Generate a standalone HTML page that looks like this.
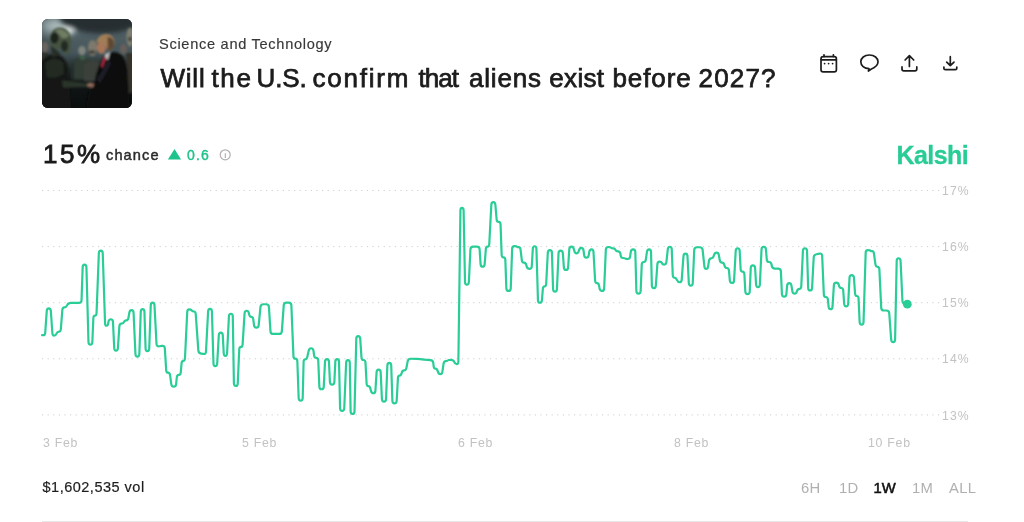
<!DOCTYPE html>
<html lang="en">
<head>
<meta charset="utf-8">
<title>Will the U.S. confirm that aliens exist before 2027?</title>
<style>
*{box-sizing:border-box;margin:0;padding:0}
html,body{width:1024px;height:522px;background:#fff;overflow:hidden}
body{font-family:"Liberation Sans",Arial,sans-serif;color:#1a1a1a;position:relative}
.abs{position:absolute;white-space:nowrap;line-height:1}
#thumb{position:absolute;left:42px;top:19px;width:90px;height:89px;border-radius:6px;overflow:hidden;background:#1c2121}
#cat{left:159px;top:36.500px;font-size:14.6px;color:#383838;letter-spacing:.7px;-webkit-text-stroke:.15px #383838}
#title{left:160px;top:64.700px;width:640px;height:30px;font-size:26px;color:#1c1c1c;-webkit-text-stroke:.75px #1c1c1c;letter-spacing:.65px}
#title span{position:absolute;top:0}
#pct{left:43px;top:141px;font-size:26px;color:#1a1a1a;-webkit-text-stroke:.8px #1a1a1a;letter-spacing:2.5px}
#chance{left:106px;top:148px;font-size:14.6px;color:#2a2a2a;-webkit-text-stroke:.45px #2a2a2a;letter-spacing:1.1px}
#delta{left:187px;top:148px;font-size:14px;color:#1ec28b;-webkit-text-stroke:.4px #1ec28b;letter-spacing:1.2px}
#kalshi{left:896.500px;top:142.600px;font-size:25px;font-weight:700;color:#28cc95;letter-spacing:-.55px;-webkit-text-stroke:.3px #28cc95}
#vol{left:42.500px;top:480px;font-size:14.5px;color:#1e1e1e;letter-spacing:.5px;-webkit-text-stroke:.2px #1e1e1e}
.tf{top:480.500px;font-size:14.8px;color:#b0b0b0;letter-spacing:.3px}
.xl{top:436.500px;font-size:12.3px;color:#c2c2c2;letter-spacing:.75px}
.yl{left:942px;font-size:12.2px;color:#c2c2c2;letter-spacing:1.1px}
#rule{position:absolute;left:42px;top:521px;width:926px;height:1px;background:#e6e6e6}
svg{position:absolute;left:0;top:0}
</style>
</head>
<body>
<div id="thumb"><svg width="90" height="89" viewBox="0 0 90 89">
<defs>
<filter id="b1" x="-30%" y="-30%" width="160%" height="160%"><feGaussianBlur stdDeviation="1"/></filter>
<filter id="b2" x="-40%" y="-40%" width="180%" height="180%"><feGaussianBlur stdDeviation="2.600"/></filter>
<filter id="b3" x="-40%" y="-40%" width="180%" height="180%"><feGaussianBlur stdDeviation="5"/></filter>
<linearGradient id="bgv" x1="0" y1="0" x2="0" y2="1"><stop offset="0" stop-color="#56676b"/><stop offset=".38" stop-color="#45555a"/><stop offset=".56" stop-color="#222a2a"/><stop offset=".8" stop-color="#0f1313"/><stop offset="1" stop-color="#0b0e0e"/></linearGradient>
</defs>
<rect width="90" height="89" fill="url(#bgv)"/>
<g filter="url(#b3)">
<ellipse cx="17" cy="7" rx="17" ry="7" fill="#b4c2c3"/>
<ellipse cx="1" cy="32" rx="7" ry="14" fill="#3a4648"/>
</g>
<g filter="url(#b2)">
<ellipse cx="60" cy="-3" rx="43" ry="17.500" fill="#252d31"/>
<ellipse cx="26" cy="12" rx="6" ry="3" fill="#eef4f4"/>
<path d="M30 44 H64 V60 H30Z" fill="#272e2b"/>
</g>
<g filter="url(#b1)">
<ellipse cx="3" cy="28" rx="3.500" ry="5.500" fill="#69635f"/>
<path d="M-2 34 Q4 31 8 36 L8 48 L-2 48Z" fill="#2e322e"/>
<ellipse cx="40" cy="31.500" rx="3.800" ry="4.600" fill="#80847e"/>
<path d="M32 42 Q40 34 47 41 L47 60 L32 60Z" fill="#333d36"/>
<ellipse cx="40.500" cy="38.500" rx="3" ry="2.200" fill="#3d5f4b"/>
<ellipse cx="50.500" cy="29" rx="4.500" ry="8" fill="#7f796d"/>
<ellipse cx="50" cy="33" rx="3.500" ry="2" fill="#4a473f"/>
<path d="M42 46 Q51 37 60 45 L60 62 L42 62Z" fill="#3b403a"/>
<ellipse cx="88" cy="18" rx="3.500" ry="9.500" fill="#7f7f70"/>
<ellipse cx="88" cy="20" rx="2" ry="2.500" fill="#45453c"/>
<ellipse cx="81.500" cy="30" rx="3.600" ry="5" fill="#665f5a"/>
<path d="M84 34 H92 V74 H86Z" fill="#34332a"/>
<!-- main alien body -->
<path d="M-2 44 Q6 33 17 36 Q27 40 26.500 58 L29 92 L-2 92Z" fill="#141914"/>
<path d="M3 44 Q12 36 21 43 L22 55 Q14 60 5 58Z" fill="#222a22"/>
<!-- head -->
<path d="M8 22 Q8 9 18 8.500 Q29 9 29 22 Q29 30 26.500 34.500 Q23 36 20 30 Q12 30 9 26Z" fill="#46533f"/>
<path d="M13 11 Q21 8 27 16 Q25 20 20 19 Q16 14 13 11Z" fill="#6f7d64"/>
<ellipse cx="12.500" cy="19" rx="4" ry="5.500" fill="#1c241e"/>
<ellipse cx="22.500" cy="27" rx="3.600" ry="5.500" fill="#212a23"/>
<path d="M9 27 Q15 30 19 36 L10 38Z" fill="#252e26"/>
<!-- arm -->
<path d="M20 61.500 L46 64.500 L46 68 L21 68.500Z" fill="#2a3529"/>
<!-- trump suit -->
<path d="M52 64 Q56 44 63 36 Q72 30 80 36 Q86 44 86 60 L88 92 L44 92 L47 72Z" fill="#0d0e11"/>
<path d="M55 60 Q62 50 66 41 L69 44 Q64 55 58 64Z" fill="#1d1f25"/>
<!-- face/hair -->
<ellipse cx="59.500" cy="28.500" rx="4.600" ry="6.300" fill="#a8775a"/>
<path d="M54 24 Q56 15 65 15 Q73 16 72.500 25 Q71 31 66 32 Q64 25 60 23 Q57 23 54 24Z" fill="#a07f57"/>
<path d="M65.500 18 Q73 18 72 27 Q70 31 66 32 Q65.500 25 65.500 18Z" fill="#5e4631"/>
<path d="M63 35 L68 33 L66 41 L63 39Z" fill="#bcbcbc"/>
<path d="M61.500 38 L64.500 38.500 L60.500 49 L59 47Z" fill="#a82a40"/>
<ellipse cx="48.500" cy="66" rx="3.400" ry="2.500" fill="#8c6658"/>
</g>
</svg></div>
<div id="cat" class="abs">Science and Technology</div>
<div id="title" class="abs"><span style="left:0.40px;letter-spacing:0.80px">Will</span> <span style="left:51.40px;letter-spacing:1.67px">the</span> <span style="left:96.60px;letter-spacing:-0.16px">U.S.</span> <span style="left:152.50px;letter-spacing:1.79px">confirm</span> <span style="left:258.46px;letter-spacing:-0.94px">that</span> <span style="left:309.06px;letter-spacing:0.79px">aliens</span> <span style="left:389.34px;letter-spacing:0.32px">exist</span> <span style="left:452.44px;letter-spacing:0.90px">before</span> <span style="left:538.50px;letter-spacing:1.18px">2027?</span></div>
<div id="pct" class="abs">15%</div>
<div id="chance" class="abs">chance</div>
<div id="delta" class="abs">0.6</div>
<div id="kalshi" class="abs">Kalshi</div>
<svg id="chart" width="1024" height="522" viewBox="0 0 1024 522" fill="none">
<g stroke="#cfcfcf" stroke-width="1" stroke-dasharray="1.2 4.4">
<line x1="42" x2="941.5" y1="190.5" y2="190.5"/>
<line x1="42" x2="941.5" y1="246.6" y2="246.6"/>
<line x1="42" x2="941.5" y1="302.7" y2="302.7"/>
<line x1="42" x2="941.5" y1="358.8" y2="358.8"/>
<line x1="42" x2="941.5" y1="414.9" y2="414.9"/>
</g>
<path d="M42.05,335.20L43.55,335.20Q45.05,335.20 45.23,332.61L46.77,310.94Q46.95,308.35 48.80,308.35L48.80,308.35Q50.65,308.35 50.83,310.94L52.37,332.96Q52.55,335.55 54.10,335.55L54.10,335.55Q55.65,335.55 56.50,333.58L56.50,333.57Q57.35,331.60 59.00,331.60L59.00,331.60Q60.65,331.60 60.85,329.01L62.35,309.89Q62.55,307.30 64.35,307.30L64.35,307.30Q66.15,307.30 67.20,305.10L67.20,305.10Q68.25,302.90 70.85,302.90L78.85,302.90Q81.45,302.90 81.54,300.30L82.66,267.15Q82.75,264.55 84.55,264.55L84.55,264.55Q86.35,264.55 86.42,267.15L88.48,341.95Q88.55,344.55 90.40,344.55L90.40,344.55Q92.25,344.55 92.36,341.95L93.34,318.20Q93.45,315.60 94.95,315.60L94.95,315.60Q96.45,315.60 96.55,313.00L98.85,253.25Q98.95,250.65 100.80,250.65L100.80,250.65Q102.65,250.65 102.74,253.25L105.06,323.15Q105.15,325.75 106.53,325.75L106.53,325.75Q107.90,325.75 108.26,323.17L108.44,321.83Q108.80,319.25 110.83,319.25L110.83,319.25Q112.85,319.25 112.97,321.85L114.23,347.95Q114.35,350.55 116.05,350.55L116.05,350.55Q117.75,350.55 117.92,347.96L119.38,326.19Q119.55,323.60 121.50,323.60L121.50,323.60Q123.45,323.60 124.05,321.95L124.05,321.95Q124.65,320.30 126.35,320.30L126.35,320.30Q128.05,320.30 128.48,317.74L129.32,312.71Q129.75,310.15 131.60,310.15L131.60,310.15Q133.45,310.15 133.57,312.75L135.43,353.95Q135.55,356.55 137.40,356.55L137.40,356.55Q139.25,356.55 139.34,353.95L140.76,311.65Q140.85,309.05 142.60,309.05L142.60,309.05Q144.35,309.05 144.43,311.65L145.57,348.55Q145.65,351.15 147.40,351.15L147.40,351.15Q149.15,351.15 149.24,348.55L150.76,305.15Q150.85,302.55 152.60,302.55L152.60,302.55Q154.35,302.55 154.49,305.15L156.51,344.00Q156.65,346.60 159.23,346.28L162.07,345.92Q164.65,345.60 164.81,348.19L166.19,370.11Q166.35,372.70 168.05,372.70L168.05,372.70Q169.75,372.70 170.10,375.28L171.30,384.07Q171.65,386.65 173.75,386.65L173.75,386.65Q175.85,386.65 176.11,384.06L176.79,377.49Q177.05,374.90 178.80,374.90L178.80,374.90Q180.55,374.90 180.77,372.31L181.53,363.49Q181.75,360.90 183.30,360.90L183.30,360.90Q184.85,360.90 184.98,358.30L187.22,312.05Q187.35,309.45 189.10,309.45L189.10,309.45Q190.85,309.45 191.70,310.48L191.70,310.48Q192.55,311.50 194.05,311.50L194.05,311.50Q195.55,311.50 195.74,314.09L198.36,350.66Q198.55,353.25 201.12,353.64L203.28,353.96Q205.85,354.35 205.99,351.75L208.11,311.55Q208.25,308.95 210.05,308.95L210.05,308.95Q211.85,308.95 211.93,311.55L213.47,363.55Q213.55,366.15 215.30,366.15L215.30,366.15Q217.05,366.15 217.20,363.55L218.80,335.25Q218.95,332.65 220.80,332.65L220.80,332.65Q222.65,332.65 222.78,335.25L223.72,353.25Q223.85,355.85 225.40,355.85L225.40,355.85Q226.95,355.85 227.08,353.25L228.92,316.35Q229.05,313.75 230.90,313.75L230.90,313.75Q232.75,313.75 232.79,316.35L233.91,383.35Q233.95,385.95 235.80,385.95L235.80,385.95Q237.65,385.95 237.76,383.35L239.24,349.50Q239.35,346.90 240.90,346.90L240.90,346.90Q242.45,346.90 242.62,344.31L244.58,313.34Q244.75,310.75 246.60,310.75L246.60,310.75Q248.45,310.75 248.95,313.30L249.15,314.35Q249.65,316.90 251.30,316.90L251.30,316.90Q252.95,316.90 253.29,319.48L254.01,325.07Q254.35,327.65 256.40,327.65L256.40,327.65Q258.45,327.65 258.70,325.06L260.50,306.84Q260.75,304.25 263.35,304.25L266.15,304.25Q268.75,304.25 268.92,306.84L270.48,331.36Q270.65,333.95 273.25,333.95L279.05,333.95Q281.65,333.95 281.84,331.36L283.76,305.14Q283.95,302.55 286.55,302.55L288.65,302.55Q291.25,302.55 291.36,305.15L293.44,356.10Q293.55,358.70 295.40,358.70L295.40,358.70Q297.25,358.70 297.34,361.30L298.66,397.95Q298.75,400.55 300.70,400.55L300.70,400.55Q302.65,400.55 302.71,397.95L303.59,362.00Q303.65,359.40 305.20,359.40L305.20,359.40Q306.75,359.40 307.32,356.86L308.68,350.79Q309.25,348.25 311.20,348.25L311.20,348.25Q313.15,348.25 313.50,350.83L314.10,355.32Q314.45,357.90 316.30,357.90L316.30,357.90Q318.15,357.90 318.26,360.50L319.34,386.65Q319.45,389.25 321.55,389.25L321.55,389.25Q323.65,389.25 323.78,386.65L325.02,361.65Q325.15,359.05 327.00,359.05L327.00,359.05Q328.85,359.05 328.97,361.65L329.93,381.95Q330.05,384.55 332.15,384.55L332.15,384.55Q334.25,384.55 334.37,381.95L335.33,361.65Q335.45,359.05 337.20,359.05L337.20,359.05Q338.95,359.05 339.01,361.65L340.09,408.25Q340.15,410.85 342.15,410.85L342.15,410.85Q344.15,410.85 344.26,408.25L346.14,362.75Q346.25,360.15 348.00,360.15L348.00,360.15Q349.75,360.15 349.79,362.75L350.61,411.35Q350.65,413.95 352.55,413.95L352.55,413.95Q354.45,413.95 354.51,411.35L356.29,338.65Q356.35,336.05 358.20,336.05L358.20,336.05Q360.05,336.05 360.22,338.64L361.48,357.41Q361.65,360.00 363.50,360.00L363.50,360.00Q365.35,360.00 365.49,362.60L366.61,383.50Q366.75,386.10 368.30,386.10L368.30,386.10Q369.85,386.10 370.45,388.63L370.95,390.72Q371.55,393.25 373.40,393.25L373.40,393.25Q375.25,393.25 375.41,390.66L376.59,372.14Q376.75,369.55 378.65,369.55L378.65,369.55Q380.55,369.55 380.67,372.15L381.93,398.95Q382.05,401.55 384.00,401.55L384.00,401.55Q385.95,401.55 386.05,398.95L387.35,365.45Q387.45,362.85 389.30,362.85L389.30,362.85Q391.15,362.85 391.23,365.45L392.37,400.75Q392.45,403.35 394.50,403.35L394.50,403.35Q396.55,403.35 396.69,400.75L397.91,378.20Q398.05,375.60 399.50,375.60L399.50,375.60Q400.95,375.60 401.63,373.09L401.67,372.91Q402.35,370.40 404.15,370.40L404.15,370.40Q405.95,370.40 406.43,367.84L407.67,361.26Q408.15,358.70 410.75,358.75L416.85,358.85Q419.45,358.90 420.50,359.10L420.50,359.10Q421.55,359.30 424.14,359.53L430.41,360.07Q433.00,360.30 433.28,362.88L433.62,366.02Q433.90,368.60 435.43,368.60L435.43,368.60Q436.95,368.60 437.71,371.09L437.89,371.66Q438.65,374.15 440.35,374.15L440.35,374.15Q442.05,374.15 442.42,371.58L443.58,363.67Q443.95,361.10 445.73,361.10L445.73,361.10Q447.50,361.10 447.95,360.45L447.95,360.45Q448.40,359.80 450.92,359.80L450.92,359.80Q453.45,359.80 454.20,361.93L454.20,361.93Q454.95,364.05 456.65,364.05L456.65,364.05Q458.35,364.05 458.38,361.45L460.42,210.55Q460.45,207.95 462.00,207.95L462.00,207.95Q463.55,207.95 463.60,210.55L465.00,281.95Q465.05,284.55 466.90,284.55L466.90,284.55Q468.75,284.55 468.87,281.95L470.43,249.25Q470.55,246.65 473.15,246.65L476.85,246.65Q479.45,246.65 479.62,249.24L480.58,264.06Q480.75,266.65 482.60,266.65L482.60,266.65Q484.45,266.65 484.66,264.06L485.84,249.19Q486.05,246.60 487.60,246.60L487.60,246.60Q489.15,246.60 489.28,244.00L491.32,204.75Q491.45,202.15 493.30,202.15L493.30,202.15Q495.15,202.15 495.37,204.74L496.63,219.31Q496.85,221.90 498.65,221.90L498.65,221.90Q500.45,221.90 500.55,224.50L501.65,254.70Q501.75,257.30 503.50,257.30L503.50,257.30Q505.25,257.30 505.34,259.90L506.36,288.35Q506.45,290.95 508.55,290.95L508.55,290.95Q510.65,290.95 510.74,288.35L512.16,248.80Q512.25,246.20 514.40,246.20L514.40,246.20Q516.55,246.20 517.00,246.70L517.00,246.70Q517.45,247.20 518.85,247.20L518.85,247.20Q520.25,247.20 520.57,249.78L521.83,260.12Q522.15,262.70 523.90,262.70L523.90,262.70Q525.65,262.70 526.34,265.21L526.66,266.34Q527.35,268.85 529.50,268.85L529.50,268.85Q531.65,268.85 531.80,266.25L532.80,248.85Q532.95,246.25 534.65,246.25L534.65,246.25Q536.35,246.25 536.43,248.85L537.97,300.15Q538.05,302.75 539.90,302.75L539.90,302.75Q541.75,302.75 541.95,300.16L542.85,288.89Q543.05,286.30 544.55,286.30L544.55,286.30Q546.05,286.30 546.19,283.70L547.81,252.65Q547.95,250.05 549.90,250.05L549.90,250.05Q551.85,250.05 551.93,252.65L553.07,289.05Q553.15,291.65 555.00,291.65L555.00,291.65Q556.85,291.65 556.96,289.05L558.54,253.15Q558.65,250.55 560.65,250.55L560.65,250.55Q562.65,250.55 562.84,253.14L563.86,267.36Q564.05,269.95 566.00,269.95L566.00,269.95Q567.95,269.95 568.12,267.36L569.28,249.24Q569.45,246.65 571.40,246.65L571.40,246.65Q573.35,246.65 573.92,249.19L574.28,250.81Q574.85,253.35 576.55,253.35L576.55,253.35Q578.25,253.35 578.86,250.82L578.94,250.48Q579.55,247.95 581.40,247.95L581.40,247.95Q583.25,247.95 583.57,250.53L584.13,255.07Q584.45,257.65 586.40,257.65L586.40,257.65Q588.35,257.65 588.76,255.08L589.24,252.02Q589.65,249.45 591.50,249.45L591.50,249.45Q593.35,249.45 593.50,252.05L595.10,280.50Q595.25,283.10 596.95,283.10L596.95,283.10Q598.65,283.10 599.07,285.67L599.53,288.38Q599.95,290.95 602.00,290.95L602.00,290.95Q604.05,290.95 604.16,288.35L605.84,249.60Q605.95,247.00 608.25,247.00L608.25,247.00Q610.55,247.00 611.15,247.65L611.15,247.65Q611.75,248.30 613.30,248.30L613.30,248.30Q614.85,248.30 615.45,249.80L615.45,249.80Q616.05,251.30 618.08,251.30L618.08,251.30Q620.10,251.30 620.45,253.88L620.65,255.42Q621.00,258.00 622.95,258.00L622.95,258.00Q624.90,258.00 625.35,258.50L625.35,258.50Q625.80,259.00 627.83,259.00L627.83,259.00Q629.85,259.00 630.17,256.42L630.73,252.03Q631.05,249.45 633.15,249.45L633.15,249.45Q635.25,249.45 635.32,252.05L636.38,290.95Q636.45,293.55 638.50,293.55L638.50,293.55Q640.55,293.55 640.66,290.95L641.74,264.60Q641.85,262.00 643.70,262.00L643.70,262.00Q645.55,262.00 645.90,259.42L646.90,252.03Q647.25,249.45 649.10,249.45L649.10,249.45Q650.95,249.45 651.02,252.05L651.88,285.55Q651.95,288.15 653.80,288.15L653.80,288.15Q655.65,288.15 655.84,285.56L657.36,264.24Q657.55,261.65 659.50,261.65L659.50,261.65Q661.45,261.65 661.95,263.10L661.95,263.10Q662.45,264.55 664.30,264.55L664.30,264.55Q666.15,264.55 666.43,261.96L667.77,249.34Q668.05,246.75 669.85,246.75L669.85,246.75Q671.65,246.75 671.75,249.35L672.75,275.00Q672.85,277.60 674.40,277.60L674.40,277.60Q675.95,277.60 676.90,279.93L676.90,279.93Q677.85,282.25 679.70,282.25L679.70,282.25Q681.55,282.25 681.74,279.66L683.46,256.24Q683.65,253.65 685.50,253.65L685.50,253.65Q687.35,253.65 687.48,256.25L688.82,282.95Q688.95,285.55 690.80,285.55L690.80,285.55Q692.65,285.55 692.77,282.95L694.23,249.85Q694.35,247.25 696.95,247.25L699.75,247.25Q702.35,247.25 702.62,249.84L704.38,266.36Q704.65,268.95 706.20,268.95L706.20,268.95Q707.75,268.95 708.14,266.38L708.96,260.87Q709.35,258.30 711.20,258.30L711.20,258.30Q713.05,258.30 713.79,255.81L714.01,255.04Q714.75,252.55 716.60,252.55L716.60,252.55Q718.45,252.55 718.88,255.11L719.72,260.04Q720.15,262.60 722.00,262.60L722.00,262.60Q723.85,262.60 724.41,265.14L724.49,265.46Q725.05,268.00 726.90,268.00L726.90,268.00Q728.75,268.00 728.98,270.59L729.82,280.36Q730.05,282.95 732.00,282.95L732.00,282.95Q733.95,282.95 734.09,280.35L735.71,250.85Q735.85,248.25 737.70,248.25L737.70,248.25Q739.55,248.25 739.68,250.85L740.62,269.00Q740.75,271.60 742.50,271.60L742.50,271.60Q744.25,271.60 744.39,274.20L745.31,291.55Q745.45,294.15 747.55,294.15L747.55,294.15Q749.65,294.15 749.76,291.55L750.74,268.05Q750.85,265.45 752.90,265.45L752.90,265.45Q754.95,265.45 755.11,268.05L756.09,284.45Q756.25,287.05 758.00,287.05L758.00,287.05Q759.75,287.05 759.87,284.45L761.53,249.35Q761.65,246.75 763.70,246.75L763.70,246.75Q765.75,246.75 765.95,249.34L766.75,259.41Q766.95,262.00 769.00,262.00L769.00,262.00Q771.05,262.00 771.55,264.55L771.85,266.05Q772.35,268.60 774.95,268.60L778.15,268.60Q780.75,268.60 780.87,271.20L781.93,294.05Q782.05,296.65 784.10,296.65L784.10,296.65Q786.15,296.65 786.38,294.06L787.12,285.64Q787.35,283.05 789.20,283.05L789.20,283.05Q791.05,283.05 791.46,285.62L792.34,291.08Q792.75,293.65 794.50,293.65L794.50,293.65Q796.25,293.65 796.95,291.23L796.95,291.23Q797.65,288.80 799.40,288.80L799.40,288.80Q801.15,288.80 801.27,286.20L802.93,250.85Q803.05,248.25 805.00,248.25L805.00,248.25Q806.95,248.25 807.03,250.85L808.17,287.85Q808.25,290.45 810.10,290.45L810.10,290.45Q811.95,290.45 812.09,287.85L813.71,257.25Q813.85,254.65 816.41,254.21L819.49,253.69Q822.05,253.25 822.16,255.85L823.84,294.40Q823.95,297.00 825.80,297.00L825.80,297.00Q827.65,297.00 827.91,299.59L828.59,306.56Q828.85,309.15 830.60,309.15L830.60,309.15Q832.35,309.15 832.52,306.56L833.88,285.24Q834.05,282.65 836.20,282.65L836.20,282.65Q838.35,282.65 838.92,285.19L838.98,285.46Q839.55,288.00 841.30,288.00L841.30,288.00Q843.05,288.00 843.23,290.59L844.17,303.76Q844.35,306.35 846.20,306.35L846.20,306.35Q848.05,306.35 848.18,303.75L849.52,277.65Q849.65,275.05 851.70,275.05L851.70,275.05Q853.75,275.05 853.94,277.64L855.06,293.41Q855.25,296.00 856.85,296.00L856.85,296.00Q858.45,296.00 858.57,298.60L859.63,322.05Q859.75,324.65 861.60,324.65L861.60,324.65Q863.45,324.65 863.53,322.05L865.67,252.80Q865.75,250.20 867.90,250.20L867.90,250.20Q870.05,250.20 870.50,250.70L870.50,250.70Q870.95,251.20 872.30,251.20L872.30,251.20Q873.65,251.20 874.00,253.78L875.40,264.22Q875.75,266.80 877.50,266.80L877.50,266.80Q879.25,266.80 879.37,269.40L881.23,307.90Q881.35,310.50 883.95,310.50L886.45,310.50Q889.05,310.50 889.24,313.09L891.16,339.46Q891.35,342.05 893.20,342.05L893.20,342.05Q895.05,342.05 895.10,339.45L896.70,260.85Q896.75,258.25 898.60,258.25L898.60,258.25Q900.45,258.25 900.57,260.85L902.43,301.00Q902.55,303.60 905.13,303.90L907.75,304.20" stroke="#2acd98" stroke-width="2.200" stroke-linejoin="round" stroke-linecap="round"/>
<circle cx="907.3" cy="304.2" r="4.4" fill="#2acd98"/>
<!-- delta triangle -->
<path d="M174.5 148.9 L181.1 159.6 L167.9 159.6 Z" fill="#1ec28b"/>
<!-- info icon -->
<circle cx="225.2" cy="154.8" r="5" stroke="#b0b0b0" stroke-width="1.2"/>
<text x="225.2" y="157.6" font-size="7.500" font-family="Liberation Sans, sans-serif" fill="#a8a8a8" text-anchor="middle" font-weight="700">i</text>
<!-- header icons -->
<g stroke="#1c1c1c" stroke-width="1.7" stroke-linecap="round" stroke-linejoin="round">
<rect x="821" y="56.7" width="15.4" height="15.2" rx="2.2"/>
<path d="M824 54.800V56.500M833.400 54.800V56.500M821.5 59.8H836"/>
<path d="M869.4 55c5 0 8.6 3 8.6 6.8 0 3.600-3.400 6-7 7.400l-2.600 1.800 .6-2.300c-4.800-.1-8.200-3.100-8.200-6.900 0-3.800 3.600-6.800 8.600-6.800z"/>
<path d="M909.400 66.400V55.700M905.100 60L909.400 55.700L913.700 60M902 66.800v2.200c0 1 .8 1.800 1.800 1.800h11.200c1 0 1.800-.8 1.800-1.800v-2.200"/>
<path d="M950.300 56.700V65.600M946.700 62.100L950.300 65.700L954 62.100M943.900 67v1.200c0 .8 .6 1.400 1.400 1.400h10.100c.8 0 1.400-.6 1.400-1.400v-1.200"/>
</g>
<g fill="#1c1c1c"><circle cx="824.600" cy="63.600" r=".9"/><circle cx="828.600" cy="63.600" r=".9"/><circle cx="832.600" cy="63.600" r=".9"/></g>
</svg>
<div class="abs yl" style="top:185px">17%</div>
<div class="abs yl" style="top:241px">16%</div>
<div class="abs yl" style="top:297px">15%</div>
<div class="abs yl" style="top:353px">14%</div>
<div class="abs yl" style="top:410px">13%</div>
<div class="abs xl" style="left:43px">3 Feb</div>
<div class="abs xl" style="left:242px">5 Feb</div>
<div class="abs xl" style="left:458px">6 Feb</div>
<div class="abs xl" style="left:674px">8 Feb</div>
<div class="abs xl" style="left:868px">10 Feb</div>
<div id="vol" class="abs">$1,602,535 vol</div>
<div class="abs tf" style="left:801px">6H</div>
<div class="abs tf" style="left:839px">1D</div>
<div class="abs tf" style="left:873.500px;color:#111;-webkit-text-stroke:.55px #111;letter-spacing:0">1W</div>
<div class="abs tf" style="left:912px">1M</div>
<div class="abs tf" style="left:949px">ALL</div>
<div id="rule"></div>
</body>
</html>
